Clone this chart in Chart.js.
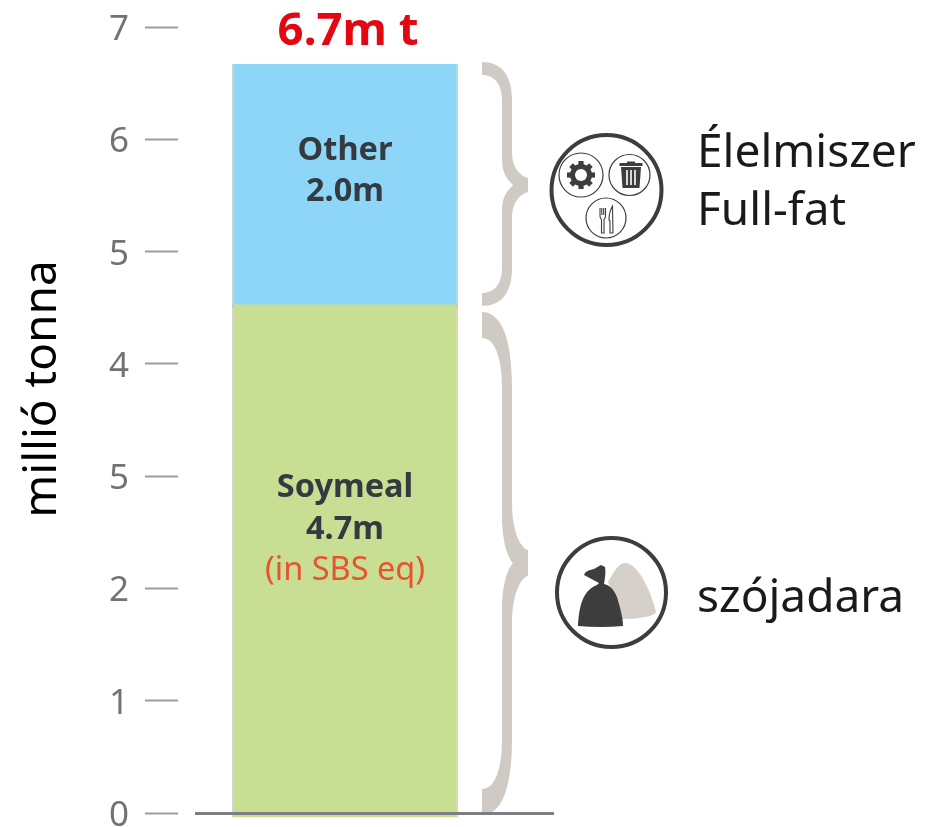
<!DOCTYPE html>
<html>
<head>
<meta charset="utf-8">
<style>html,body{margin:0;padding:0;background:#fff}canvas{display:block}</style>
<script src="https://cdn.jsdelivr.net/npm/chart.js@4"></script>
</head>
<body>
<canvas id="c" width="925" height="827"></canvas>
<script>
const categories = ['Total'];
const soymealRange = [[-0.04, 4.53]];
const otherRange = [[4.5, 6.67]];
const tickValues = ['0', '1', '2', '5', '4', '5', '6', '7'];
const axisTitle = 'millió tonna';
const totalLabel = '6.7m t';
const otherLabels = ['Other', '2.0m'];
const soymealLabels = ['Soymeal', '4.7m'];
const soymealNote = '(in SBS eq)';
const upperGroup = ['Élelmiszer', 'Full-fat'];
const lowerGroup = ['szójadara'];
const FONT = '"Noto Sans", sans-serif';

function brace(ctx, yT, yB, yM, endSpan, midSpan, lip, tip) {
  const L = 482, a = 502, b = 512, c = 528, n = 513;
  ctx.beginPath();
  ctx.moveTo(L, yT);
  ctx.bezierCurveTo(L + 18, yT, b, yT + endSpan * 0.3, b, yT + endSpan);
  ctx.lineTo(b, yM - midSpan);
  ctx.bezierCurveTo(b, yM - midSpan * 0.55, c - 8, yM - tip - 2, c, yM - tip);
  ctx.lineTo(c, yM + tip);
  ctx.bezierCurveTo(c - 8, yM + tip + 2, b, yM + midSpan * 0.55, b, yM + midSpan);
  ctx.lineTo(b, yB - endSpan);
  ctx.bezierCurveTo(b, yB - endSpan * 0.3, L + 18, yB, L, yB);
  ctx.lineTo(L, yB - lip);
  ctx.bezierCurveTo(L + 13, yB - lip, a, yB - lip - (endSpan - lip) * 0.4, a, yB - endSpan);
  ctx.lineTo(a, yM + midSpan * 0.78);
  ctx.bezierCurveTo(a, yM + midSpan * 0.35, n - 5, yM + 5, n, yM);
  ctx.bezierCurveTo(n - 5, yM - 5, a, yM - midSpan * 0.35, a, yM - midSpan * 0.78);
  ctx.lineTo(a, yT + endSpan);
  ctx.bezierCurveTo(a, yT + lip + (endSpan - lip) * 0.4, L + 13, yT + lip, L, yT + lip);
  ctx.closePath();
  ctx.fillStyle = '#cfcac4';
  ctx.fill();
}

function ring(ctx, x, y, r, w) {
  ctx.beginPath();
  ctx.arc(x, y, r, 0, Math.PI * 2);
  ctx.lineWidth = w;
  ctx.strokeStyle = '#3d3d3d';
  ctx.stroke();
}

function gear(ctx, x, y) {
  ctx.fillStyle = '#3d3d3d';
  ctx.beginPath();
  ctx.arc(x, y, 11, 0, Math.PI * 2);
  ctx.fill();
  for (let i = 0; i < 8; i++) {
    ctx.save();
    ctx.translate(x, y);
    ctx.rotate(i * Math.PI / 4);
    ctx.fillRect(-2.6, -14, 5.2, 6);
    ctx.restore();
  }
  ctx.fillStyle = '#fff';
  ctx.beginPath();
  ctx.arc(x, y, 6, 0, Math.PI * 2);
  ctx.fill();
}

function trash(ctx, x, y) {
  ctx.fillStyle = '#3d3d3d';
  ctx.fillRect(x - 4, y - 13.5, 8, 2);
  ctx.fillRect(x - 11.5, y - 12, 23, 3);
  ctx.beginPath();
  ctx.moveTo(x - 10, y - 8);
  ctx.lineTo(x + 10, y - 8);
  ctx.lineTo(x + 8.5, y + 13);
  ctx.lineTo(x - 8.5, y + 13);
  ctx.closePath();
  ctx.fill();
  ctx.fillStyle = '#fff';
  [-4, 0, 4].forEach(d => ctx.fillRect(x + d - 0.8, y - 5, 1.6, 15));
}

function cutlery(ctx, x, y) {
  ctx.strokeStyle = '#3d3d3d';
  ctx.lineWidth = 1.1;
  ctx.beginPath();
  ctx.moveTo(x - 6, y - 11); ctx.lineTo(x - 6, y - 3);
  ctx.quadraticCurveTo(x - 6, y - 0.5, x - 4.5, y + 0.5);
  ctx.lineTo(x - 4.5, y + 14); ctx.lineTo(x - 2, y + 14); ctx.lineTo(x - 2, y + 0.5);
  ctx.quadraticCurveTo(x - 0.5, y - 0.5, x - 0.5, y - 3);
  ctx.lineTo(x - 0.5, y - 11);
  ctx.moveTo(x - 4.2, y - 11); ctx.lineTo(x - 4.2, y - 4);
  ctx.moveTo(x - 2.3, y - 11); ctx.lineTo(x - 2.3, y - 4);
  ctx.moveTo(x + 6.5, y - 13);
  ctx.quadraticCurveTo(x + 3, y - 7, x + 3, y + 1);
  ctx.lineTo(x + 4, y + 2); ctx.lineTo(x + 4, y + 14); ctx.lineTo(x + 7, y + 14); ctx.closePath();
  ctx.stroke();
}

function bags(ctx) {
  ctx.fillStyle = '#d5d0ca';
  ctx.beginPath();
  ctx.moveTo(608, 582);
  ctx.bezierCurveTo(614, 571, 619, 563, 625, 563);
  ctx.bezierCurveTo(639, 563, 652, 595, 656, 612);
  ctx.bezierCurveTo(655, 616, 640, 619, 622, 619);
  ctx.closePath();
  ctx.fill();
  ctx.fillStyle = '#3d3d3d';
  ctx.beginPath();
  ctx.moveTo(578, 626);
  ctx.bezierCurveTo(579, 606, 583, 590, 597, 585);
  ctx.lineTo(599, 583);
  ctx.lineTo(584, 575);
  ctx.bezierCurveTo(586, 570, 591, 570, 594, 569);
  ctx.lineTo(601, 565);
  ctx.lineTo(605, 567);
  ctx.bezierCurveTo(606, 572, 605, 578, 604, 584);
  ctx.bezierCurveTo(613, 586, 617, 595, 619, 604);
  ctx.bezierCurveTo(622, 615, 623, 620, 623, 626);
  ctx.quadraticCurveTo(600, 628, 578, 626);
  ctx.closePath();
  ctx.fill();
}

function label(ctx, text, x, y, font, color, align) {
  ctx.font = font;
  ctx.fillStyle = color;
  ctx.textAlign = align || 'center';
  ctx.textBaseline = 'alphabetic';
  ctx.fillText(text, x, y);
}

const annotations = {
  id: 'annotations',
  afterDatasetsDraw(chart) {
    const ctx = chart.ctx, y = chart.scales.y;
    const cx = chart.getDatasetMeta(0).data[0].x;
    const base = y.getPixelForValue(0);
    ctx.save();
    brace(ctx, 62, 306, 185, 38, 32, 13, 7);
    brace(ctx, 312, 815, 563, 76, 60, 26, 13);
    ctx.fillStyle = '#7b7f82';
    ctx.fillRect(195, base - 1, 359, 3);

    ring(ctx, 606.5, 190, 55, 4);
    ring(ctx, 581, 175, 22, 1.2);
    ring(ctx, 629.5, 175, 20.5, 1.2);
    ring(ctx, 606, 218, 20, 1.2);
    gear(ctx, 581, 175);
    trash(ctx, 631, 175);
    cutlery(ctx, 606, 219);
    ring(ctx, 611.5, 592.5, 54.5, 4);
    bags(ctx);

    label(ctx, totalLabel, 348, 45, 'bold 45.5px ' + FONT, '#e30613');
    const dark = '#343a40', bold = 'bold 32.5px ' + FONT;
    label(ctx, otherLabels[0], cx, 160, bold, dark);
    label(ctx, otherLabels[1], cx, 201, bold, dark);
    label(ctx, soymealLabels[0], cx, 497, bold, dark);
    label(ctx, soymealLabels[1], cx, 539, bold, dark);
    label(ctx, soymealNote, cx, 580, '32.5px ' + FONT, '#e8532f');
    const big = '46px ' + FONT, ink = '#1a1a1a';
    label(ctx, upperGroup[0], 697, 167, big, ink, 'left');
    label(ctx, upperGroup[1], 697, 225, big, ink, 'left');
    label(ctx, lowerGroup[0], 697, 612, big, ink, 'left');

    ctx.translate(43, 389);
    ctx.rotate(-Math.PI / 2);
    ctx.font = big;
    ctx.fillStyle = '#000';
    ctx.textAlign = 'center';
    ctx.textBaseline = 'middle';
    ctx.fillText(axisTitle, 0, 0);
    ctx.restore();
  }
};

new Chart(document.getElementById('c'), {
  type: 'bar',
  data: {
    labels: categories,
    datasets: [
      { label: 'Soymeal', data: soymealRange, backgroundColor: '#c8de93' },
      { label: 'Other', data: otherRange, backgroundColor: '#8ed6f8' }
    ].map(d => Object.assign(d, {
      clip: false,
      borderSkipped: false,
      borderColor: '#a6acaa',
      borderWidth: { left: 1, right: 1, top: 0, bottom: 0 },
      barPercentage: 0.675,
      categoryPercentage: 1
    }))
  },
  options: {
    responsive: false,
    animation: false,
    layout: { padding: { left: 0, right: 413, top: 27, bottom: 14 } },
    plugins: { legend: { display: false }, tooltip: { enabled: false } },
    scales: {
      x: { display: false, stacked: true },
      y: {
        min: 0, max: 7,
        afterFit(s) { s.width = 178; s.paddingTop = 0; s.paddingBottom = 0; },
        border: { display: false },
        grid: { drawOnChartArea: false, drawTicks: true, tickLength: 33, tickWidth: 2, tickColor: '#9b9e9f' },
        ticks: {
          stepSize: 1,
          padding: 16,
          color: '#707477',
          font: { family: '"Noto Sans", sans-serif', size: 35, lineHeight: '6px' },
          callback: (v) => ['', tickValues[v]]
        }
      }
    }
  },
  plugins: [annotations]
});
</script>
</body>
</html>
